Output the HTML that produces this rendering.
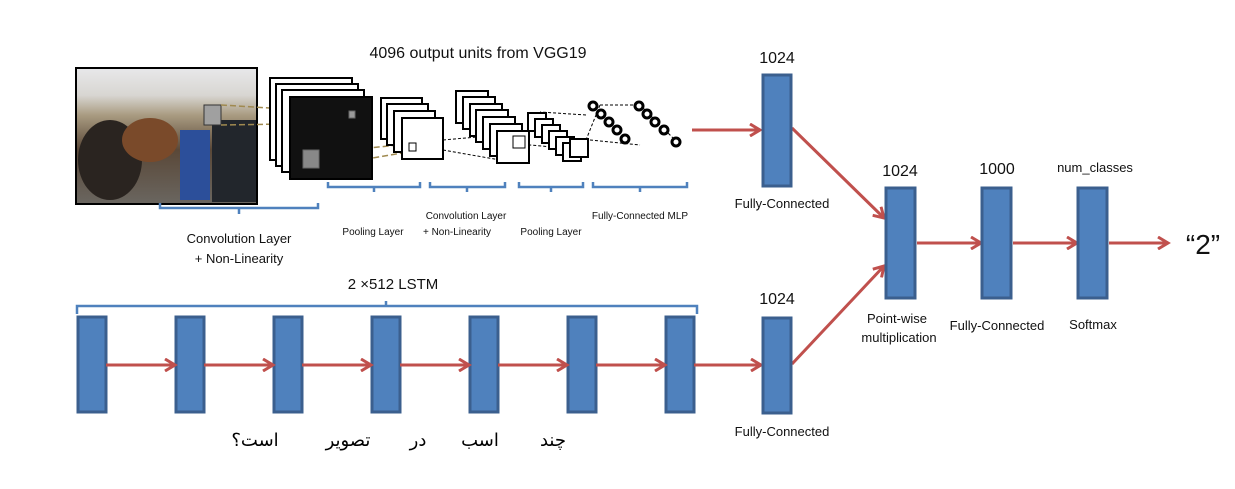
<!DOCTYPE html>
<html><head><meta charset="utf-8"><style>
body{margin:0;background:#fff;}
svg{display:block;font-family:"Liberation Sans","Noto Sans CJK SC","DejaVu Sans",sans-serif;}
</style></head><body>
<svg width="1235" height="489" viewBox="0 0 1235 489">
<defs>
<marker id="ah" markerWidth="14" markerHeight="14" refX="11" refY="7" orient="auto" markerUnits="userSpaceOnUse">
<path d="M1,1 L11,7 L1,13" fill="none" stroke="#c0504d" stroke-width="3"/></marker>
<linearGradient id="photo" x1="0" y1="0" x2="0" y2="1">
<stop offset="0" stop-color="#e8e8ea"/><stop offset="0.2" stop-color="#d8d6d2"/><stop offset="0.35" stop-color="#a89a80"/><stop offset="0.6" stop-color="#5a4838"/><stop offset="1" stop-color="#6a6660"/></linearGradient>
</defs>

<g>
<rect x="76" y="68" width="181" height="136" fill="url(#photo)" stroke="#000" stroke-width="2"/>
<ellipse cx="110" cy="160" rx="32" ry="40" fill="#2a2420"/>
<ellipse cx="150" cy="140" rx="28" ry="22" fill="#7a4a2a"/>
<rect x="180" y="130" width="30" height="70" fill="#2c4f9a"/>
<rect x="212" y="120" width="44" height="82" fill="#22262c"/>
<rect x="204" y="105" width="17" height="20" fill="#a0a0a0" stroke="#333"/>
</g>
<g stroke="#a08a50" stroke-width="1.5" stroke-dasharray="6,3">
<line x1="221" y1="105" x2="350" y2="113"/><line x1="221" y1="125" x2="350" y2="123"/>
<line x1="320" y1="153" x2="408" y2="144"/><line x1="320" y1="167" x2="408" y2="152"/>
</g>
<g fill="#fff" stroke="#000" stroke-width="2">
<rect x="270" y="78" width="82" height="82"/><rect x="276" y="84" width="82" height="82"/><rect x="282" y="90" width="82" height="82"/>
<rect x="290" y="97" width="82" height="82" fill="#111"/>
<rect x="303" y="150" width="16" height="18" fill="#888" stroke="#666" stroke-width="1"/>
<rect x="349" y="111" width="6" height="7" fill="#999" stroke="#666" stroke-width="1"/>
</g>
<g fill="#fff" stroke="#000" stroke-width="2">
<rect x="381" y="98" width="41" height="41"/><rect x="387" y="104" width="41" height="41"/><rect x="394" y="111" width="41" height="41"/><rect x="402" y="118" width="41" height="41"/>
<rect x="409" y="143" width="7" height="8" stroke-width="1"/>
</g>
<g stroke="#000" stroke-width="1" stroke-dasharray="3,2"><line x1="443" y1="150" x2="500" y2="160"/><line x1="443" y1="140" x2="500" y2="135"/><line x1="586" y1="115" x2="540" y2="112"/><line x1="586" y1="150" x2="530" y2="145"/><line x1="590" y1="105" x2="640" y2="105"/><line x1="590" y1="140" x2="640" y2="145"/><line x1="640" y1="105" x2="680" y2="145"/><line x1="600" y1="105" x2="580" y2="155"/></g>
<g fill="#fff" stroke="#000" stroke-width="2">
<rect x="456" y="91" width="32" height="32"/><rect x="463" y="97" width="32" height="32"/><rect x="470" y="104" width="32" height="32"/><rect x="476" y="110" width="32" height="32"/><rect x="483" y="117" width="32" height="32"/><rect x="490" y="124" width="32" height="32"/><rect x="497" y="131" width="32" height="32"/>
<rect x="513" y="136" width="12" height="12" stroke-width="1"/>
</g>
<g fill="#fff" stroke="#000" stroke-width="2">
<rect x="528" y="113" width="18" height="18"/><rect x="535" y="119" width="18" height="18"/><rect x="542" y="125" width="18" height="18"/><rect x="549" y="131" width="18" height="18"/><rect x="556" y="137" width="18" height="18"/><rect x="563" y="143" width="18" height="18"/><rect x="570" y="139" width="18" height="18"/>
</g>
<g fill="#fff" stroke="#000" stroke-width="3">
<circle cx="593" cy="106" r="4"/><circle cx="601" cy="114" r="4"/><circle cx="609" cy="122" r="4"/><circle cx="617" cy="130" r="4"/><circle cx="625" cy="139" r="4"/>
<circle cx="639" cy="106" r="4"/><circle cx="647" cy="114" r="4"/><circle cx="655" cy="122" r="4"/><circle cx="664" cy="130" r="4"/><circle cx="676" cy="142" r="4"/>
</g>
<text x="478" y="58" font-size="16" text-anchor="middle" fill="#111">4096 output  units from VGG19</text>

<g fill="none" stroke="#4f81bd" stroke-width="2.5">
<path d="M160,203 v5 h158 v-5 M239,208 v6"/>
<path d="M328,182 v5 h92 v-5 M374,187 v5"/>
<path d="M430,182 v5 h75 v-5 M467,187 v5"/>
<path d="M519,182 v5 h64 v-5 M551,187 v5"/>
<path d="M593,182 v5 h94 v-5 M640,187 v5"/>
<path d="M77,314 v-8 h620 v8 M386,306 v-5"/>
</g>
<g fill="#111" text-anchor="middle">
<text x="239" y="243" font-size="13">Convolution Layer</text>
<text x="239" y="263" font-size="13">+ Non-Linearity</text>
<text x="373" y="235" font-size="10">Pooling Layer</text>
<text x="466" y="219" font-size="10">Convolution Layer</text>
<text x="457" y="235" font-size="10">+ Non-Linearity</text>
<text x="551" y="235" font-size="10">Pooling  Layer</text>
<text x="640" y="219" font-size="10">Fully-Connected MLP</text>
<text x="393" y="289" font-size="15">2 ×512 LSTM</text>
</g>

<g fill="#4f81bd" stroke="#3b5f8e" stroke-width="3">
<rect x="78" y="317" width="28" height="95"/><rect x="176" y="317" width="28" height="95"/><rect x="274" y="317" width="28" height="95"/><rect x="372" y="317" width="28" height="95"/><rect x="470" y="317" width="28" height="95"/><rect x="568" y="317" width="28" height="95"/><rect x="666" y="317" width="28" height="95"/>
</g>
<g stroke="#c0504d" stroke-width="3" marker-end="url(#ah)">
<line x1="106" y1="365" x2="175" y2="365"/><line x1="204" y1="365" x2="273" y2="365"/><line x1="302" y1="365" x2="371" y2="365"/><line x1="400" y1="365" x2="469" y2="365"/><line x1="498" y1="365" x2="567" y2="365"/><line x1="596" y1="365" x2="665" y2="365"/><line x1="694" y1="365" x2="761" y2="365"/>
<line x1="692" y1="130" x2="760" y2="130"/>
<line x1="792" y1="128" x2="884" y2="218"/>
<line x1="792" y1="364" x2="884" y2="266"/>
<line x1="917" y1="243" x2="981" y2="243"/><line x1="1013" y1="243" x2="1077" y2="243"/><line x1="1109" y1="243" x2="1168" y2="243"/>
</g>
<g font-size="18" fill="#000" text-anchor="middle" font-family="'DejaVu Sans','Noto Sans CJK SC',sans-serif" direction="rtl">
<text x="255" y="446">است؟</text>
<text x="348" y="446">تصویر</text>
<text x="418" y="446">در</text>
<text x="480" y="446">اسب</text>
<text x="553" y="446">چند</text>
</g>

<g fill="#4f81bd" stroke="#3b5f8e" stroke-width="3">
<rect x="763" y="75" width="28" height="111"/><rect x="763" y="318" width="28" height="95"/>
<rect x="886" y="188" width="29" height="110"/><rect x="982" y="188" width="29" height="110"/><rect x="1078" y="188" width="29" height="110"/>
</g>
<g fill="#111" text-anchor="middle">
<text x="777" y="63" font-size="16">1024</text>
<text x="777" y="304" font-size="16">1024</text>
<text x="900" y="176" font-size="16">1024</text>
<text x="997" y="174" font-size="16">1000</text>
<text x="1095" y="172" font-size="13">num_classes</text>
<text x="782" y="208" font-size="13">Fully-Connected</text>
<text x="782" y="436" font-size="13">Fully-Connected</text>
<text x="897" y="323" font-size="13">Point-wise</text>
<text x="899" y="342" font-size="13">multiplication</text>
<text x="997" y="330" font-size="13">Fully-Connected</text>
<text x="1093" y="329" font-size="13">Softmax</text>
<text x="1203" y="254" font-size="28">“2”</text>
</g>
</svg>
</body></html>
